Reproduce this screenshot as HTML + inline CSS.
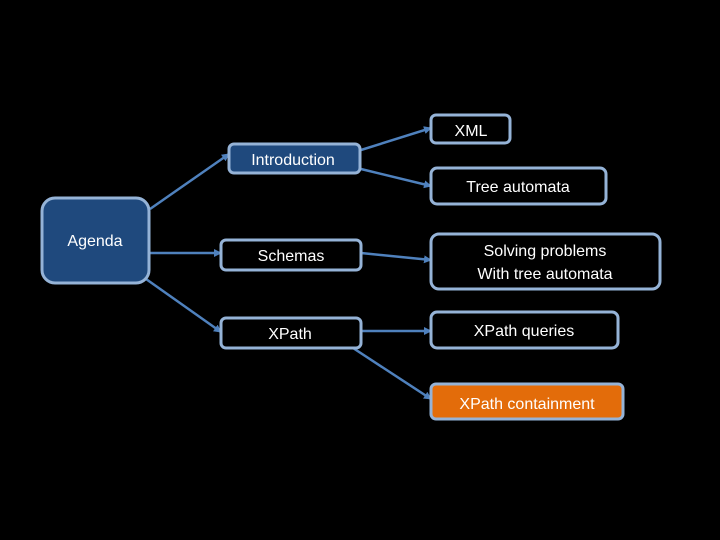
<!DOCTYPE html>
<html><head><meta charset="utf-8"><style>
html,body{margin:0;padding:0;background:#000;width:720px;height:540px;overflow:hidden;}
svg{display:block;}
svg text{font-family:"Liberation Sans",sans-serif;font-size:16px;fill:#fff;}
</style></head><body>
<svg width="720" height="540" viewBox="0 0 720 540" xmlns="http://www.w3.org/2000/svg">
<defs><marker id="a" markerWidth="8" markerHeight="8" refX="7" refY="4" orient="auto" markerUnits="userSpaceOnUse"><path d="M0,0 L8,4 L0,8 Z" fill="#4f81bd"/></marker></defs>
<g stroke="#4f81bd" stroke-width="2.5" fill="none" marker-end="url(#a)">
<line x1="150" y1="209" x2="229" y2="154"/>
<line x1="150" y1="253" x2="221" y2="253"/>
<line x1="146" y1="279" x2="221" y2="332"/>
<line x1="361" y1="150" x2="431" y2="128"/>
<line x1="361" y1="169" x2="431" y2="186"/>
<line x1="361" y1="253" x2="431" y2="260"/>
<line x1="361" y1="331" x2="431" y2="331"/>
<line x1="353" y1="348" x2="431" y2="399"/>
</g>
<g stroke="#95b3d7" stroke-width="3">
<rect x="42" y="198" width="107" height="85" rx="13" fill="#1f497d"/>
<rect x="229" y="144" width="131" height="29" rx="5" fill="#1f497d"/>
<rect x="221" y="240" width="140" height="30" rx="5" fill="#000"/>
<rect x="221" y="318" width="140" height="30" rx="5" fill="#000"/>
<rect x="431" y="115" width="79" height="28" rx="5" fill="#000"/>
<rect x="431" y="168" width="175" height="36" rx="6" fill="#000"/>
<rect x="431" y="234" width="229" height="55" rx="8" fill="#000"/>
<rect x="431" y="312" width="187" height="36" rx="6" fill="#000"/>
<rect x="431" y="384" width="192" height="35" rx="5" fill="#e36c0a"/>
</g>
<text x="95" y="246" text-anchor="middle">Agenda</text>
<text x="293" y="165" text-anchor="middle">Introduction</text>
<text x="291" y="261" text-anchor="middle">Schemas</text>
<text x="290" y="339" text-anchor="middle">XPath</text>
<text x="471" y="136" text-anchor="middle">XML</text>
<text x="518" y="192" text-anchor="middle">Tree automata</text>
<text x="545" y="256" text-anchor="middle">Solving problems</text>
<text x="545" y="279" text-anchor="middle">With tree automata</text>
<text x="524" y="336" text-anchor="middle">XPath queries</text>
<text x="527" y="409" text-anchor="middle">XPath containment</text>
</svg>
</body></html>
